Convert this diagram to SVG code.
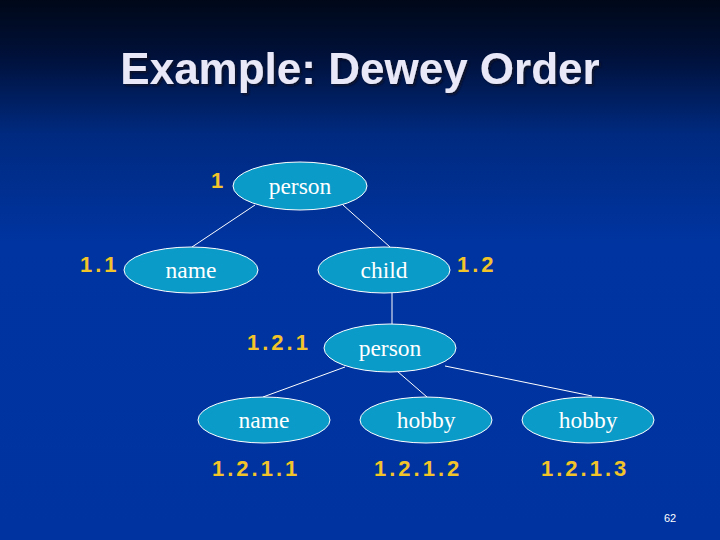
<svg xmlns="http://www.w3.org/2000/svg" width="720" height="540" viewBox="0 0 720 540">
<defs>
<linearGradient id="bg" x1="0" y1="0" x2="0" y2="1">
<stop offset="0" stop-color="#000818"/>
<stop offset="0.1" stop-color="#001038"/>
<stop offset="0.25" stop-color="#002a80"/>
<stop offset="0.45" stop-color="#0034a0"/>
<stop offset="1" stop-color="#0033a0"/>
</linearGradient>
<filter id="sh" x="-10%" y="-30%" width="120%" height="160%">
<feDropShadow dx="2" dy="2" stdDeviation="1" flood-color="#0a1020" flood-opacity="0.8"/>
</filter>
<style>
.node ellipse{fill:#0a9bc8;stroke:#ffffff;stroke-width:1}
.node text{font-family:"Liberation Serif","Times New Roman",serif;font-size:23.5px;fill:#ffffff;text-anchor:middle}
.lbl{font-family:"Liberation Sans",Arial,sans-serif;font-size:22px;font-weight:bold;fill:#f2c42a;letter-spacing:3px}
#edges line{stroke:#ffffff;stroke-width:1}
</style>
</defs>
<rect width="720" height="540" fill="url(#bg)"/>
<text x="360" y="84" text-anchor="middle" font-family="Liberation Sans,Arial,sans-serif" font-size="44" font-weight="bold" fill="#e8e8f8" filter="url(#sh)">Example: Dewey Order</text>
<g id="edges">
<line x1="255" y1="205" x2="192" y2="247"/>
<line x1="343" y1="205" x2="390" y2="247"/>
<line x1="392" y1="293" x2="392" y2="324"/>
<line x1="345" y1="367" x2="263" y2="397"/>
<line x1="397" y1="371" x2="427" y2="397"/>
<line x1="445" y1="366" x2="592" y2="396"/>
</g>
<g id="n1" class="node"><ellipse cx="300" cy="186" rx="67" ry="24"/><text x="300" y="194">person</text></g>
<g id="n11" class="node"><ellipse cx="191" cy="270" rx="67" ry="23"/><text x="191" y="278">name</text></g>
<g id="n12" class="node"><ellipse cx="384" cy="270" rx="66" ry="23"/><text x="384" y="278">child</text></g>
<g id="n121" class="node"><ellipse cx="390" cy="348" rx="66" ry="24"/><text x="390" y="356">person</text></g>
<g id="n1211" class="node"><ellipse cx="264" cy="420" rx="66" ry="23"/><text x="264" y="428">name</text></g>
<g id="n1212" class="node"><ellipse cx="426" cy="420" rx="66" ry="23"/><text x="426" y="428">hobby</text></g>
<g id="n1213" class="node"><ellipse cx="588" cy="420" rx="66" ry="23"/><text x="588" y="428">hobby</text></g>
<g id="labels">
<text class="lbl" x="211" y="188">1</text>
<text class="lbl" x="80" y="272">1.1</text>
<text class="lbl" x="457" y="272">1.2</text>
<text class="lbl" x="247" y="350">1.2.1</text>
<text class="lbl" x="212" y="476">1.2.1.1</text>
<text class="lbl" x="374" y="476">1.2.1.2</text>
<text class="lbl" x="541" y="476">1.2.1.3</text>
</g>
<text x="670" y="522" text-anchor="middle" font-family="Liberation Sans,Arial,sans-serif" font-size="11" fill="#ffffff">62</text>
</svg>
